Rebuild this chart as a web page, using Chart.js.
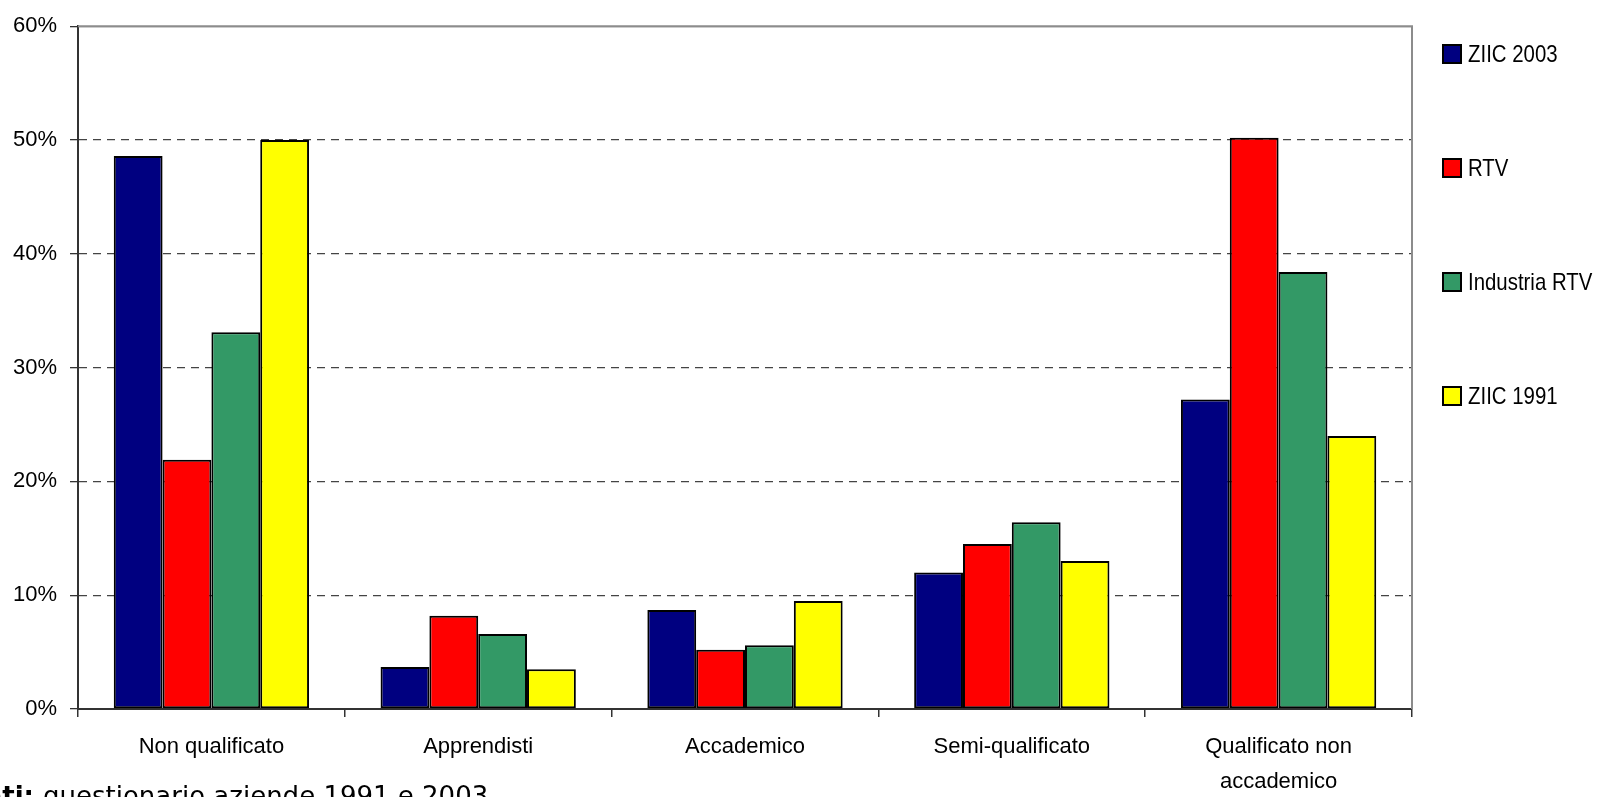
<!DOCTYPE html>
<html>
<head>
<meta charset="utf-8">
<script src="https://cdn.jsdelivr.net/npm/chart.js@4.4.1/dist/chart.umd.min.js"></script>
<style>
  html, body { margin: 0; padding: 0; background: #fff; overflow: hidden; }
  #wrap { position: relative; width: 1598px; height: 797px; }
</style>
</head>
<body>
<div id="wrap"><canvas id="c" width="1598" height="797"></canvas></div>
<script>
const categories = ["Non qualificato", "Apprendisti", "Accademico", "Semi-qualificato", ["Qualificato non", "accademico"]];
const seriesNames = ["ZIIC 2003", "RTV", "Industria RTV", "ZIIC 1991"];
const ziic2003 = [48.6, 3.7, 8.7, 12.0, 27.2];
const rtv = [21.9, 8.2, 5.2, 14.5, 50.2];
const industriaRtv = [33.1, 6.6, 5.6, 16.4, 38.4];
const ziic1991 = [50.0, 3.5, 9.5, 13.0, 24.0];
const seriesColors = ["#000080", "#FF0000", "#339966", "#FFFF00"];
const yTicks = [0, 10, 20, 30, 40, 50, 60];
const footerBold = "Fonti: ";
const footerText = "questionario aziende 1991 e 2003";

const FONT = "'Liberation Sans', Arial, sans-serif";
const values = [ziic2003, rtv, industriaRtv, ziic1991];
const datasets = values.map((v, i) => ({
  label: seriesNames[i],
  data: v,
  backgroundColor: seriesColors[i],
  borderColor: "#000",
  borderWidth: 2,
  borderSkipped: false,
  categoryPercentage: 0.732,
  barPercentage: 1.0
}));

const framePlugin = {
  id: "frame",
  beforeDatasetsDraw(chart) {
    const {ctx, chartArea: a} = chart;
    ctx.save();
    ctx.strokeStyle = "#8c8c8c";
    ctx.lineWidth = 2;
    ctx.beginPath();
    ctx.moveTo(a.left, a.top);
    ctx.lineTo(a.right, a.top);
    ctx.lineTo(a.right, a.bottom);
    ctx.stroke();
    ctx.restore();
  },
  afterDraw(chart) {
    const {ctx} = chart;
    ctx.save();
    // legend
    const ds = chart.data.datasets;
    const x0 = 1443, box = 18, yStart = 54, step = 114;
    ctx.textBaseline = "middle";
    ctx.textAlign = "left";
    ds.forEach((d, i) => {
      const cy = yStart + i * step;
      ctx.fillStyle = d.backgroundColor;
      ctx.fillRect(x0, cy - box / 2, box, box);
      ctx.strokeStyle = "#000";
      ctx.lineWidth = 2;
      ctx.strokeRect(x0, cy - box / 2, box, box);
      ctx.fillStyle = "#000";
      ctx.save();
      ctx.translate(x0 + 25, cy + 1);
      ctx.font = "24px " + FONT;
      ctx.scale(0.85, 1);
      ctx.fillText(d.label, 0, 0);
      ctx.restore();
    });
    // footer
    ctx.textBaseline = "alphabetic";
    ctx.font = "bold 26px 'DejaVu Sans', Verdana, sans-serif";
    const wb = ctx.measureText(footerBold).width;
    ctx.fillStyle = "#000";
    ctx.fillText(footerBold, 43 - wb, 805);
    ctx.font = "26px 'DejaVu Sans', Verdana, sans-serif";
    ctx.fillText(footerText, 43, 805);
    ctx.restore();
  }
};

new Chart(document.getElementById("c"), {
  type: "bar",
  data: { labels: categories, datasets },
  plugins: [framePlugin],
  options: {
    responsive: false,
    animation: false,
    devicePixelRatio: 1,
    layout: { padding: { top: 24, right: 186, bottom: 0, left: 0 } },
    plugins: {
      legend: { display: false },
      tooltip: { enabled: false },
      title: { display: false }
    },
    scales: {
      x: {
        offset: true,
        afterFit(s) { s.height = 88; },
        grid: {
          offset: true,
          drawOnChartArea: false,
          drawTicks: true,
          tickLength: 8,
          color: "#333",
          lineWidth: 1.5
        },
        border: { display: true, color: "#333", width: 2 },
        ticks: {
          color: "#000",
          padding: 12,
          maxRotation: 0,
          autoSkip: false,
          font: { family: FONT, size: 22, lineHeight: 35 / 22 }
        }
      },
      y: {
        min: 0,
        max: 60,
        afterFit(s) { s.width = 78; },
        afterBuildTicks(s) { s.ticks = yTicks.map(v => ({ value: v })); },
        grid: {
          drawTicks: true,
          tickLength: 8,
          color(ctx) {
            if (!ctx.tick) return "#444";
            if (ctx.tick.value === 0) return "rgba(0,0,0,0)";
            if (ctx.tick.value === 60) return "#8c8c8c";
            return "#444";
          },
          tickColor: "#333",
          lineWidth: 1.3
        },
        border: {
          display: true,
          color: "#333",
          width: 2,
          dash(ctx) {
            if (ctx.tick && ctx.tick.value !== 60 && ctx.tick.value !== 0) return [8, 6];
            return [];
          }
        },
        ticks: {
          color: "#000",
          padding: 13,
          font: { family: FONT, size: 22 },
          callback: (v) => v + "%"
        }
      }
    }
  }
});
</script>
</body>
</html>
